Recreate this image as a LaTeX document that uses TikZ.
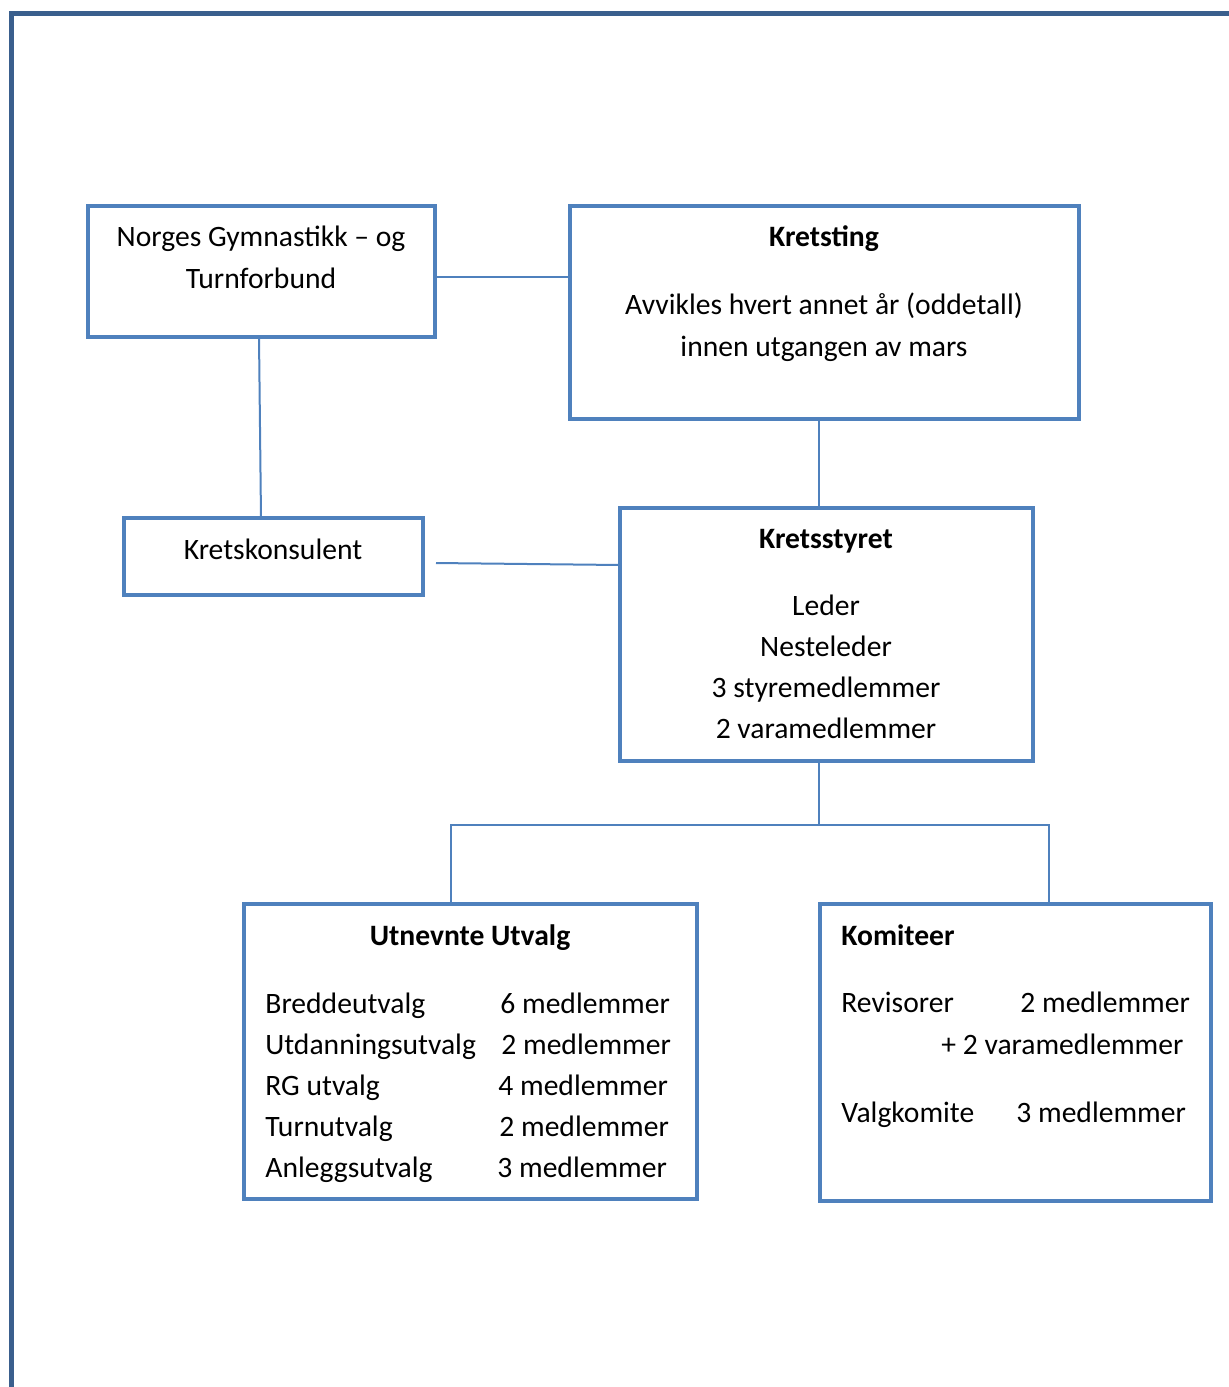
\documentclass[tikz,border=0pt]{standalone}
\usepackage{fontspec}
\setmainfont{Carlito}
\usepackage{tikz}
\definecolor{boxblue}{HTML}{4F81BD}
\definecolor{frameblue}{HTML}{3A5F8D}

\begin{document}
\begin{tikzpicture}[x=0.5pt,y=-0.5pt,
  box/.style={draw=boxblue,line width=2.1pt,inner sep=0pt,outer sep=0pt},
  link/.style={draw=boxblue,line width=1pt},
  txt/.style={inner sep=0pt,anchor=base,font=\fontsize{14.8}{20.5}\selectfont},
  txtl/.style={txt,anchor=base west},
  head/.style={txt,font=\fontsize{14.8}{20.5}\selectfont\bfseries}]
\useasboundingbox (0,0) rectangle (1229,1387);
%frame
\draw[frameblue,line width=2.5pt] (1229,13) -| (11,1387);
%boxes
\node[box,minimum width=173.5pt,minimum height=65.5pt] (ngtf) at (261.5,271.5) {};
\node[box,minimum width=254.5pt,minimum height=106.5pt] (kretsting) at (824.5,312.5) {};
\node[box,minimum width=149.5pt,minimum height=38.5pt] (konsulent) at (273.5,556.5) {};
\node[box,minimum width=206.5pt,minimum height=126.5pt] (styret) at (826.5,634.5) {};
\node[box,minimum width=226.5pt,minimum height=147.5pt] (utvalg) at (470.5,1051.5) {};
\node[box,minimum width=195.5pt,minimum height=148.5pt] (komite) at (1015.5,1052.5) {};
%texts
\node[txt] (ngtf1) at (261,246.5) {Norges Gymnastikk – og};
\node[txt] (ngtf2) at (261,288.5) {Turnforbund};
\node[head] (ting0) at (824,246.5) {Kretsting};
\node[txt] (ting1) at (824,314.5) {Avvikles hvert annet år (oddetall)};
\node[txt] (ting2) at (824,356.5) {innen utgangen av mars};
\node[txt] (kons0) at (273,559.5) {Kretskonsulent};
\node[head] (styr0) at (826,548.5) {Kretsstyret};
\node[txt] (styr1) at (826,615.5) {Leder};
\node[txt] (styr2) at (826,656.5) {Nesteleder};
\node[txt] (styr3) at (826,697.5) {3 styremedlemmer};
\node[txt] (styr4) at (826,738.5) {2 varamedlemmer};
\node[head] (utv0) at (470,945.5) {Utnevnte Utvalg};
\node[txtl] (utv1) at (265,1013.5) {Breddeutvalg};
\node[txtl] (utv1m) at (500,1013.5) {6 medlemmer};
\node[txtl] (utv2) at (265,1054.5) {Utdanningsutvalg};
\node[txtl] (utv2m) at (501,1054.5) {2 medlemmer};
\node[txtl] (utv3) at (265,1095.5) {RG utvalg};
\node[txtl] (utv3m) at (498,1095.5) {4 medlemmer};
\node[txtl] (utv4) at (265,1136.5) {Turnutvalg};
\node[txtl] (utv4m) at (499,1136.5) {2 medlemmer};
\node[txtl] (utv5) at (265,1177.5) {Anleggsutvalg};
\node[txtl] (utv5m) at (497,1177.5) {3 medlemmer};
\node[head,anchor=base west] (kom0) at (841,945.5) {Komiteer};
\node[txtl] (kom1) at (841,1012.5) {Revisorer};
\node[txtl] (kom1m) at (1020,1012.5) {2 medlemmer};
\node[txtl] (kom1v) at (941,1054.5) {+ 2 varamedlemmer};
\node[txtl] (kom2) at (841,1122.5) {Valgkomite};
\node[txtl] (kom2m) at (1016,1122.5) {3 medlemmer};
%links
\draw[link] ([yshift=-2.75pt]ngtf.east) coordinate (c1) -- (c1 -| kretsting.west);
\draw[link] ([xshift=-1.25pt]ngtf.south) -- ([xshift=-6.25pt]konsulent.north);
\draw[link] ([xshift=6.5pt,yshift=-3.25pt]konsulent.east) -- ([yshift=34.75pt]styret.west);
\draw[link] ([xshift=-2.75pt]kretsting.south) -- ([xshift=-3.75pt]styret.north);
\draw[link] ([xshift=-3.75pt]styret.south) -- ++(0,64) coordinate (fork);
\draw[link] ([xshift=-9.75pt]utvalg.north) |- (fork) -| ([xshift=16.75pt]komite.north);
\end{tikzpicture}
\end{document}
